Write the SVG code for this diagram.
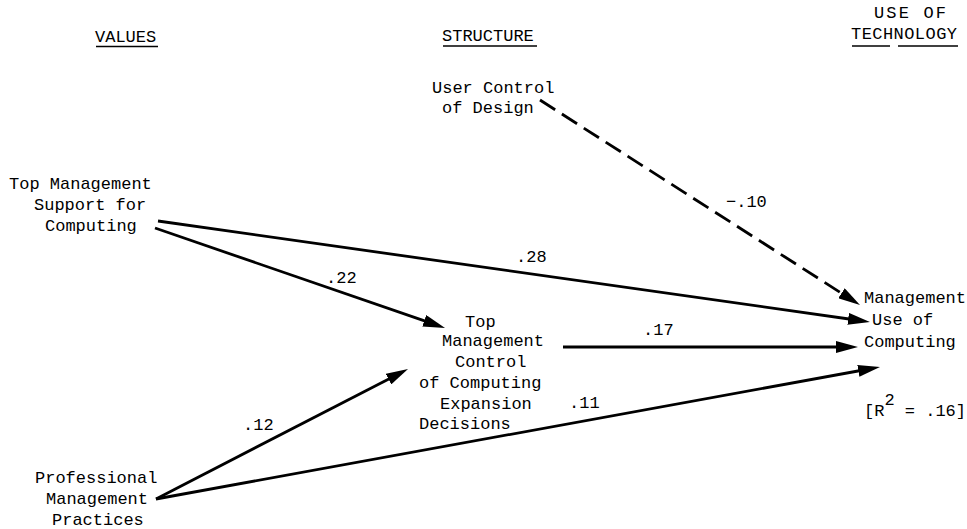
<svg xmlns="http://www.w3.org/2000/svg" width="967" height="529" viewBox="0 0 967 529">
<style>
  text { font-family: "Liberation Mono", "Courier New", monospace; font-size: 17px; fill: #000; }
  .edge { stroke: #000; stroke-width: 2.8; fill: none; }
  .dash { stroke-dasharray: 18 8; }
  .ul { stroke: #000; stroke-width: 1.4; }
</style>
<defs>
  <marker id="ah" markerUnits="userSpaceOnUse" markerWidth="22" markerHeight="12" refX="8" refY="6" orient="auto">
    <path d="M0,0 L22,6 L0,12 z" fill="#000"/>
  </marker>
</defs>
<rect width="967" height="529" fill="#fff"/>

<g id="headers">
  <text x="95" y="42">VALUES</text>
  <line class="ul" x1="96" y1="46.5" x2="158" y2="46.5"/>
  <text x="442" y="41">STRUCTURE</text>
  <line class="ul" x1="443" y1="46" x2="537" y2="46"/>
  <text x="874" y="18" textLength="72" lengthAdjust="spacing">USE OF</text>
  <text x="851" y="39" textLength="106" lengthAdjust="spacing">TECHNOLOGY</text>
  <line class="ul" x1="852" y1="46" x2="890" y2="46"/>
  <line class="ul" x1="898" y1="46" x2="958" y2="46"/>
</g>

<g id="user-control">
  <text x="432" y="93">User Control</text>
  <text x="442" y="113">of Design</text>
</g>

<g id="top-mgmt-support">
  <text x="9" y="189">Top Management</text>
  <text x="34" y="210">Support for</text>
  <text x="45" y="231">Computing</text>
</g>

<g id="top-mgmt-control">
  <text x="465" y="327">Top</text>
  <text x="442" y="346">Management</text>
  <text x="455" y="367">Control</text>
  <text x="419" y="388">of Computing</text>
  <text x="440" y="409">Expansion</text>
  <text x="419" y="429">Decisions</text>
</g>

<g id="professional-mgmt">
  <text x="35" y="483">Professional</text>
  <text x="46" y="504">Management</text>
  <text x="52" y="525">Practices</text>
</g>

<g id="mgmt-use">
  <text x="864" y="303">Management</text>
  <text x="872" y="325">Use of</text>
  <text x="864" y="347">Computing</text>
  <text x="864" y="416">[R<tspan dy="-11">2</tspan><tspan dy="11"> = .16]</tspan></text>
</g>

<g id="connectors">
  <line class="edge dash" x1="540" y1="100" x2="848.2" y2="297.5" marker-end="url(#ah)"/>
  <line class="edge" x1="158" y1="221" x2="856.1" y2="320" marker-end="url(#ah)"/>
  <line class="edge" x1="155" y1="228" x2="431.8" y2="323.4" marker-end="url(#ah)"/>
  <line class="edge" x1="156" y1="499" x2="395.6" y2="375.4" marker-end="url(#ah)"/>
  <line class="edge" x1="156" y1="499" x2="866.2" y2="369.5" marker-end="url(#ah)"/>
  <line class="edge" x1="563" y1="347" x2="844" y2="347" marker-end="url(#ah)"/>
  <text x="726" y="207">−.10</text>
  <text x="516" y="262">.28</text>
  <text x="326" y="283">.22</text>
  <text x="243" y="430">.12</text>
  <text x="643" y="335">.17</text>
  <text x="569" y="408">.11</text>
</g>
</svg>
